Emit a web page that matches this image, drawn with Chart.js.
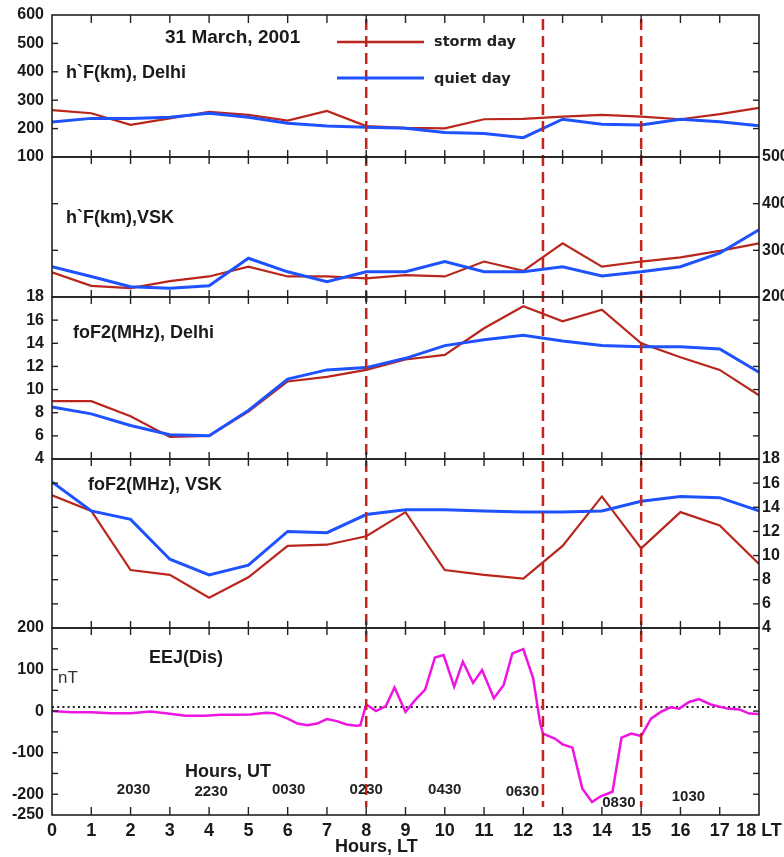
<!DOCTYPE html>
<html>
<head>
<meta charset="utf-8">
<script src="https://cdn.jsdelivr.net/npm/chart.js@4.4.0/dist/chart.umd.min.js"></script>
<style>
html,body{margin:0;padding:0;background:#fff;}
#wrap{position:relative;width:784px;height:857px;}
</style>
</head>
<body>
<div id="wrap"><canvas id="c" width="784" height="857"></canvas></div>
<script>
// ---------------- DATA ----------------
const hoursLT = [0,1,2,3,4,5,6,7,8,9,10,11,12,13,14,15,16,17,18];

// h'F (km), Delhi
const delhiHF_storm = [265,254,213,236,259,248,228,262,209,203,201,233,234,242,248,242,233,251,273];
const delhiHF_quiet = [223,236,236,240,254,240,219,209,205,201,186,183,168,233,215,213,233,224,210];

// h'F (km), VSK
const vskHF_storm = [253,224,219,234,244,265,244,244,240,247,244,276,256,315,265,276,285,299,315];
const vskHF_quiet = [265,244,222,219,224,283,254,233,254,254,276,254,254,265,245,254,265,294,344];

// foF2 (MHz), Delhi
const delhiFo_storm = [9.0,9.0,7.7,5.9,6.0,8.1,10.7,11.1,11.7,12.6,13.0,15.3,17.2,15.9,16.9,14.0,12.8,11.7,9.5];
const delhiFo_quiet = [8.5,7.9,6.9,6.1,6.0,8.2,10.9,11.7,11.9,12.7,13.8,14.3,14.7,14.2,13.8,13.7,13.7,13.5,11.5];

// foF2 (MHz), VSK
const vskFo_storm = [15.0,13.7,8.8,8.4,6.5,8.2,10.8,10.9,11.6,13.6,8.8,8.4,8.1,10.8,14.9,10.6,13.6,12.5,9.3];
const vskFo_quiet = [16.1,13.7,13.0,9.7,8.4,9.2,12.0,11.9,13.4,13.8,13.8,13.7,13.6,13.6,13.7,14.5,14.9,14.8,13.7];

// EEJ (Dis), nT
const eejHours = [0,0.5,1.0,1.5,2.0,2.5,2.9,3.4,3.9,4.3,4.6,5.05,5.45,5.65,6.0,6.25,6.5,6.75,7.0,7.25,7.5,7.75,7.85,8.0,8.25,8.5,8.72,9.0,9.25,9.5,9.75,9.97,10.24,10.46,10.72,10.95,11.25,11.5,11.72,12.0,12.25,12.43,12.5,12.8,13.0,13.25,13.5,13.75,13.97,14.27,14.5,14.75,15.0,15.25,15.5,15.75,15.97,16.22,16.47,16.77,17.2,17.5,17.75,18.0];
const eejNT = [0,-3,-3,-5,-5,-1,-5,-11,-11,-9,-9,-8,-4,-5,-18,-30,-34,-30,-19,-24,-32,-35,-34,16,0,12,57,-2,27,52,129,135,59,119,68,99,31,63,139,149,79,-30,-54,-66,-80,-88,-186,-219,-205,-194,-64,-54,-60,-18,-2,9,6,22,29,16,6,4,-6,-7];
const eejRefLevel = 10;

// storm phase markers (LT hours)
const stormMarkersLT = [8, 12.5, 15];

// UT tick labels placed under LT hours
const utTickLT = [2,4,6,8,10,12,14,16];
const utTickLabels = ['2030','2230','0030','0230','0430','0630','0830','1030'];

// ---------------- STYLE ----------------
const RED = '#b8261c', BLUE = '#1f52ff', MAG = '#ee14e2', INK = '#1a1a1a';
const FONT = "'Liberation Sans', Arial, Helvetica, sans-serif";

function pts(xs, ys) { return xs.map((x, i) => ({x: x, y: ys[i]})); }
function series(label, values, color, width, axis, order) {
  return {label, data: pts(hoursLT, values), borderColor: color, backgroundColor: color,
    borderWidth: width, pointRadius: 0, tension: 0, fill: false, yAxisID: axis, order};
}

const datasets = [
  series('storm day', delhiHF_storm, RED, 2.2, 'yL1', 2),
  series('quiet day', delhiHF_quiet, BLUE, 3, 'yL1', 1),
  series('storm day', vskHF_storm, RED, 2.2, 'yL2', 2),
  series('quiet day', vskHF_quiet, BLUE, 3, 'yL2', 1),
  series('storm day', delhiFo_storm, RED, 2.2, 'yL3', 2),
  series('quiet day', delhiFo_quiet, BLUE, 3, 'yL3', 1),
  series('storm day', vskFo_storm, RED, 2.2, 'yL4', 2),
  series('quiet day', vskFo_quiet, BLUE, 3, 'yL4', 1),
  {label: 'EEJ', data: pts(eejHours, eejNT), borderColor: MAG, borderWidth: 2.5, pointRadius: 0,
   tension: 0, fill: false, yAxisID: 'yL5', order: 1},
  {label: 'ref', data: [{x: 0, y: eejRefLevel}, {x: 18, y: eejRefLevel}], borderColor: '#222',
   borderWidth: 2, borderDash: [2, 3.2], pointRadius: 0, fill: false, yAxisID: 'yL5', order: 3}
];

function yAxis(pos, stackWeight, weight, min, max, step, showLabels, cb) {
  return {
    type: 'linear', position: pos, stack: pos === 'left' ? 'L' : 'R', stackWeight, weight,
    min, max,
    grid: {display: false, drawTicks: false},
    border: {display: false},
    ticks: {stepSize: step, display: showLabels, autoSkip: false, padding: pos === 'left' ? 8 : 3,
      color: INK, font: {family: FONT, weight: 'bold', size: 16},
      callback: cb || (v => v)},
    afterFit(s) { s.width = pos === 'left' ? 52 : 25; s.paddingTop = 0; s.paddingBottom = 0; }
  };
}
const eejLabel = v => (v % 100 === 0 || v === -250) ? v : '';

const leftAxes = ['yL1','yL2','yL3','yL4','yL5'];
const rightAxes = ['yR1','yR2','yR3','yR4','yR5'];

const decor = {
  id: 'decor',
  afterDatasetsDraw(chart) {
    const {ctx, chartArea: a, scales} = chart;
    const xs = scales.x;
    ctx.save();
    // dashed storm markers
    ctx.strokeStyle = '#c0261c'; ctx.lineWidth = 2.5; ctx.setLineDash([11, 6]);
    stormMarkersLT.forEach(h => {
      const px = xs.getPixelForValue(h);
      ctx.beginPath(); ctx.moveTo(px, a.top + 4); ctx.lineTo(px, a.bottom - 8); ctx.stroke();
    });
    ctx.setLineDash([]);
    // panel frames
    ctx.strokeStyle = '#222'; ctx.lineWidth = 1.6;
    leftAxes.forEach(id => {
      const s = scales[id];
      ctx.strokeRect(a.left, s.top, a.right - a.left, s.bottom - s.top);
    });
    // y tick marks (inward)
    ctx.lineWidth = 1.4;
    leftAxes.concat(rightAxes).forEach(id => {
      const s = scales[id];
      s.ticks.forEach(t => {
        const py = s.getPixelForValue(t.value);
        if (Math.abs(py - s.top) < 1.5 || Math.abs(py - s.bottom) < 1.5) return;
        ctx.beginPath();
        if (s.position === 'left') { ctx.moveTo(a.left, py); ctx.lineTo(a.left + 6, py); }
        else { ctx.moveTo(a.right, py); ctx.lineTo(a.right - 6, py); }
        ctx.stroke();
      });
    });
    // x tick marks on every panel boundary
    const bounds = leftAxes.map(id => scales[id].top).concat([a.bottom]);
    xs.ticks.forEach(t => {
      if (t.value <= xs.min || t.value >= xs.max) return;
      const px = xs.getPixelForValue(t.value);
      bounds.forEach((by, i) => {
        let y1 = by - 7, y2 = by + 7;
        if (i === 0) { y1 = by; y2 = by + 8; }
        if (i === bounds.length - 1) { y1 = by - 8; y2 = by; }
        ctx.beginPath(); ctx.moveTo(px, y1); ctx.lineTo(px, y2); ctx.stroke();
      });
    });
    // legend
    ctx.lineWidth = 2.5; ctx.strokeStyle = RED;
    ctx.beginPath(); ctx.moveTo(337, 42); ctx.lineTo(424, 42); ctx.stroke();
    ctx.lineWidth = 3; ctx.strokeStyle = BLUE;
    ctx.beginPath(); ctx.moveTo(337, 78); ctx.lineTo(424, 78); ctx.stroke();
    ctx.fillStyle = '#222'; ctx.textBaseline = 'middle'; ctx.textAlign = 'left';
    ctx.font = "bold 14.5px 'DejaVu Sans', Verdana, sans-serif";
    ctx.fillText('storm day', 434, 42);
    ctx.fillText('quiet day', 434, 79);
    // titles / panel labels
    ctx.fillStyle = INK;
    ctx.font = 'bold 19px ' + FONT; ctx.fillText('31 March, 2001', 165, 38);
    ctx.font = 'bold 18px ' + FONT;
    ctx.fillText('h`F(km), Delhi', 66, 73);
    ctx.fillText('h`F(km),VSK', 66, 218);
    ctx.fillText('foF2(MHz), Delhi', 73, 333);
    ctx.fillText('foF2(MHz), VSK', 88, 485);
    ctx.fillText('EEJ(Dis)', 149, 658);
    ctx.fillText('Hours, UT', 185, 772);
    ctx.fillText('Hours, LT', 335, 847);
    ctx.fillStyle = '#333'; ctx.font = '17px ' + FONT;
    ctx.fillText('nT', 58, 678);
    // UT labels
    ctx.fillStyle = '#222'; ctx.font = 'bold 15px ' + FONT; ctx.textAlign = 'center';
    const utDx = [3, 2, 1, 0, 0, -1, 17, 8], utDy = [790, 792, 790, 790, 790, 792, 803, 797];
    utTickLT.forEach((h, i) => {
      ctx.fillText(utTickLabels[i], xs.getPixelForValue(h) + utDx[i], utDy[i]);
    });
    ctx.restore();
  }
};

const scales = {
  x: {
    type: 'linear', position: 'bottom', min: 0, max: 18,
    grid: {display: false, drawTicks: false}, border: {display: false},
    ticks: {stepSize: 1, autoSkip: false, maxRotation: 0, padding: 5, color: INK,
      font: {family: FONT, weight: 'bold', size: 18},
      callback: v => v === 18 ? '18 LT' : v},
    afterFit(s) { s.height = 42; s.paddingLeft = 0; s.paddingRight = 0; }
  },
  yL1: yAxis('left', 142, 5, 100, 600, 100, true),
  yL2: yAxis('left', 140, 4, 200, 500, 100, false),
  yL3: yAxis('left', 162, 3, 4, 18, 2, true),
  yL4: yAxis('left', 169, 2, 4, 18, 2, false),
  yL5: yAxis('left', 187, 1, -250, 200, 50, true, eejLabel),
  yR1: yAxis('right', 142, 1, 100, 600, 100, false),
  yR2: yAxis('right', 140, 2, 200, 500, 100, true),
  yR3: yAxis('right', 162, 3, 4, 18, 2, false),
  yR4: yAxis('right', 169, 4, 4, 18, 2, true),
  yR5: yAxis('right', 187, 5, -250, 200, 50, false)
};

new Chart(document.getElementById('c'), {
  type: 'line',
  data: {datasets},
  options: {
    responsive: false, animation: false, devicePixelRatio: 1,
    layout: {padding: {top: 15, left: 0, right: 0, bottom: 0}},
    plugins: {legend: {display: false}, tooltip: {enabled: false}, title: {display: false}},
    scales
  },
  plugins: [decor]
});
</script>
</body>
</html>
